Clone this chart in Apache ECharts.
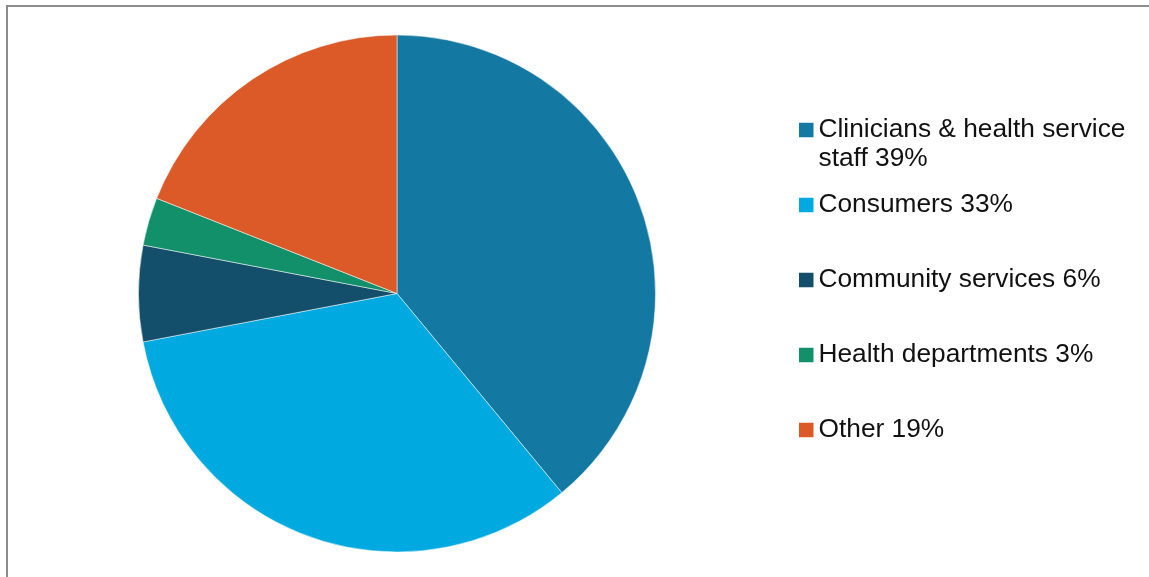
<!DOCTYPE html>
<html>
<head>
<meta charset="utf-8">
<script src="https://cdn.jsdelivr.net/npm/echarts@6/dist/echarts.min.js"></script>
<style>
html,body{margin:0;padding:0;background:#fff;}
#c{width:1149px;height:577px;}
</style>
</head>
<body>
<div id="c"></div>
<script>
const categories = ['Clinicians & health service staff', 'Consumers', 'Community services', 'Health departments', 'Other'];
const values = [39, 33, 6, 3, 19];
const legendLabels = ['Clinicians & health service\nstaff 39%', 'Consumers 33%', 'Community services 6%', 'Health departments 3%', 'Other 19%'];
const colors = ['#1479A2', '#00A9DF', '#134F6B', '#12906A', '#DC5A28'];

const chart = echarts.init(document.getElementById('c'), null, {renderer: 'canvas'});
const legendCenters = [130, 205, 280, 355, 430];
const LH = 29, ICON = 16.5;
const legends = categories.map((name, i) => {
  const multi = legendLabels[i].indexOf('\n') >= 0;
  const boxH = (multi ? 3 : 1) * LH;
  return {
    orient: 'vertical',
    left: 797,
    top: legendCenters[i] - boxH / 2,
    itemWidth: ICON,
    itemHeight: ICON,
    itemGap: 0,
    icon: 'rect',
    selectedMode: false,
    padding: 0,
    data: [name],
    formatter: () => multi ? '\n' + legendLabels[i] : legendLabels[i],
    textStyle: {
      fontFamily: 'Liberation Sans, Arial, sans-serif',
      fontSize: 26.3,
      lineHeight: LH,
      color: '#111',
      padding: [0, 0, 0, -1]
    }
  };
});

chart.setOption({
  animation: false,
  color: colors,
  legend: legends,
  graphic: [
    {type: 'line', shape: {x1: 6, y1: 6, x2: 1149, y2: 6}, style: {stroke: '#8c8c8c', lineWidth: 2}},
    {type: 'line', shape: {x1: 7, y1: 5, x2: 7, y2: 577}, style: {stroke: '#8c8c8c', lineWidth: 2}}
  ],
  series: [{
    type: 'pie',
    center: [397, 293.5],
    radius: 258.5,
    startAngle: 90,
    clockwise: true,
    label: {show: false},
    labelLine: {show: false},
    emphasis: {disabled: true},
    itemStyle: {borderColor: '#ffffff', borderWidth: 0.5},
    data: categories.map((n, i) => ({name: n, value: values[i]}))
  }]
});
</script>
</body>
</html>
